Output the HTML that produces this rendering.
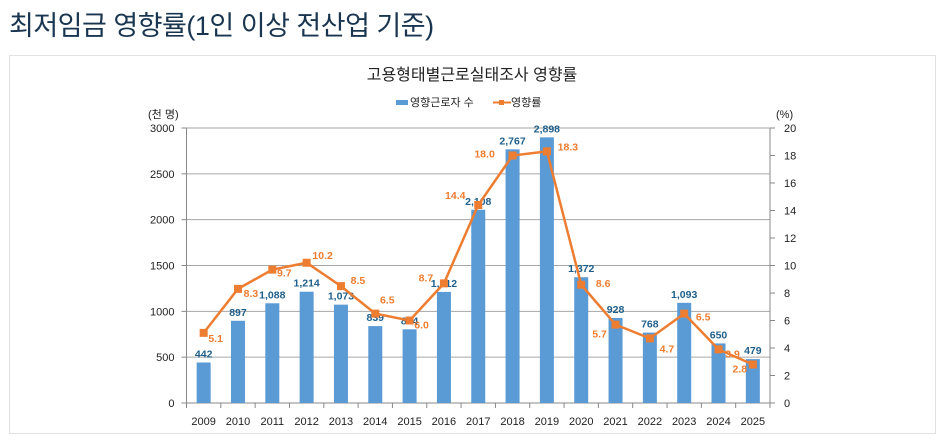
<!DOCTYPE html>
<html><head><meta charset="utf-8"><style>
body{margin:0;background:#fff;width:945px;height:443px;overflow:hidden;font-family:"Liberation Sans","Noto Sans CJK KR",sans-serif;}
h1{position:absolute;left:9px;top:4px;margin:0;font-size:27px;font-weight:normal;color:#1a3550;font-family:"Liberation Sans","Noto Sans CJK KR",sans-serif;letter-spacing:-0.5px}
#box{position:absolute;left:9px;top:55px;width:925px;height:377px;border:1px solid #e2e2e2;}
svg{position:absolute;left:0;top:0}
</style></head><body>
<h1>최저임금 영향률(1인 이상 전산업 기준)</h1>
<div id="box"></div>
<svg id="chart" width="945" height="443" font-family="Liberation Sans, Noto Sans CJK KR, sans-serif"></svg>
<script>
const years=["2009","2010","2011","2012","2013","2014","2015","2016","2017","2018","2019","2020","2021","2022","2023","2024","2025"];
const workers=[442,897,1088,1214,1073,839,804,1212,2108,2767,2898,1372,928,768,1093,650,479];
const rates=[5.1,8.3,9.7,10.2,8.5,6.5,6.0,8.7,14.4,18.0,18.3,8.6,5.7,4.7,6.5,3.9,2.8];
const leftTicks=[0,500,1000,1500,2000,2500,3000];
const rightTicks=[0,2,4,6,8,10,12,14,16,18,20];
// label placement offsets (layout, not data)
const rdx=[12,13,12,16,17,12,12,-18,-23,-28,21,22,-16,17,19,14,-13];
const rdy=[9,8,7,-4,-2,-10,8,-2,-6,2,-1,2,13,14,7,8,8];
const NS="http://www.w3.org/2000/svg";
const svg=document.getElementById('chart');
function mk(t,a,p){const e=document.createElementNS(NS,t);for(const k in a)e.setAttribute(k,a[k]);(p||svg).appendChild(e);return e;}
const L=186.5,R=770,T=128,B=403;
const bw=(R-L)/years.length;
const x=i=>L+bw*(i+0.5);
const yL=v=>B-(v/3000)*(B-T);
const yR=v=>B-(v/20)*(B-T);
let t=mk('text',{x:472,y:80,'text-anchor':'middle','font-size':16,fill:'#222'});t.textContent='고용형태별근로실태조사 영향률';


let lg=mk('g',{});


mk('rect',{x:396,y:100,width:12,height:5,fill:'#5b9bd5'},lg);
t=mk('text',{x:410,y:106,'font-size':11,fill:'#222'},lg);t.textContent='영향근로자 수';
mk('line',{x1:493,y1:102.5,x2:511,y2:102.5,stroke:'#ed7d31','stroke-width':2},lg);
mk('rect',{x:499,y:100,width:5,height:5,fill:'#ed7d31'},lg);
t=mk('text',{x:511,y:106,'font-size':11,fill:'#222'},lg);t.textContent='영향률';
t=mk('text',{x:148,y:118,'font-size':11,fill:'#222'});t.textContent='(천 명)';


t=mk('text',{x:776,y:118,'font-size':11,fill:'#222'});t.textContent='(%)';


leftTicks.forEach(v=>{
  mk('line',{x1:L,x2:R,y1:yL(v),y2:yL(v),stroke:v===0?'#888':'#a6a6a6','stroke-width':1});
  mk('line',{x1:L-5,x2:L,y1:yL(v),y2:yL(v),stroke:'#888'});
  const e=mk('text',{x:L-12,y:yL(v)+4,'text-anchor':'end','font-size':11,fill:'#222'});e.textContent=v;
  
  
});
rightTicks.forEach(v=>{
  mk('line',{x1:R,x2:R+5,y1:yR(v),y2:yR(v),stroke:'#888'});
  const e=mk('text',{x:R+14,y:yR(v)+4,'font-size':11,fill:'#222'});e.textContent=v;
  
  
});
mk('line',{x1:L,x2:L,y1:T,y2:B,stroke:'#888'});
mk('line',{x1:R,x2:R,y1:T,y2:B,stroke:'#888'});
years.forEach((yr,i)=>{
  mk('line',{x1:L+bw*i,x2:L+bw*i,y1:B,y2:B+5,stroke:'#888'});
  const e=mk('text',{x:x(i),y:B+22,'text-anchor':'middle','font-size':11,fill:'#222'});e.textContent=yr;
  
  
});
mk('line',{x1:R,x2:R,y1:B,y2:B+5,stroke:'#888'});
workers.forEach((v,i)=>{
  const r=mk('rect',{x:x(i)-7,y:yL(v),width:14,height:B-yL(v),fill:'#5b9bd5'});
  
  
  const e=mk('text',{x:x(i),y:yL(v)-5,'text-anchor':'middle','font-size':10.5,'font-weight':'bold',fill:'#1f5f8b'});
  e.textContent=v.toLocaleString('en-US');
  
  
});
const pl=mk('polyline',{points:rates.map((v,i)=>x(i)+','+yR(v)).join(' '),fill:'none',stroke:'#ed7d31','stroke-width':2.5});


rates.forEach((v,i)=>{
  const m=mk('rect',{x:x(i)-4,y:yR(v)-4,width:8,height:8,fill:'#ed7d31'});
  
  
  const e=mk('text',{x:x(i)+rdx[i],y:yR(v)+rdy[i],'text-anchor':'middle','font-size':10.5,'font-weight':'bold',fill:'#ed7d31'});
  e.textContent=v.toFixed(1);
  
  
});
</script>
</body></html>
